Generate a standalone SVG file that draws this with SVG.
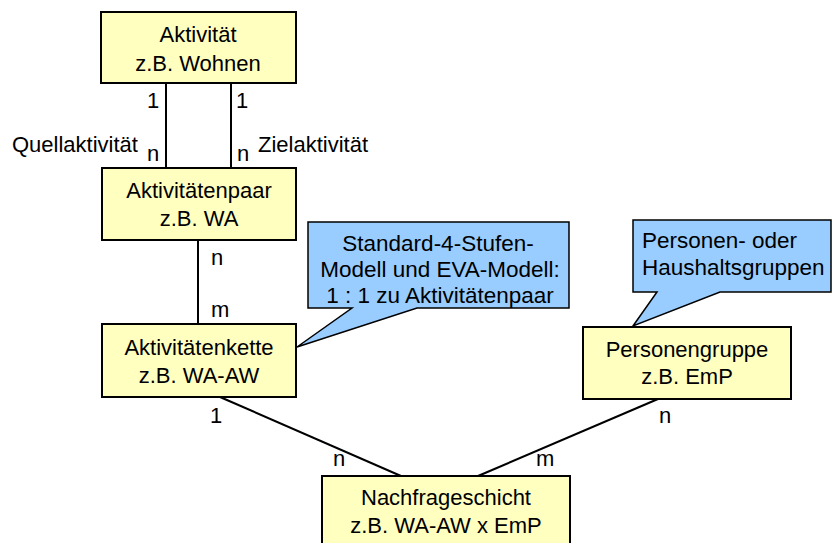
<svg xmlns="http://www.w3.org/2000/svg" width="832" height="543" viewBox="0 0 832 543">
  <style>
    text { font-family: "Liberation Sans", Arial, sans-serif; font-size: 22px; fill: #000; }
    .note-text { font-size: 22.5px; }
    .box { fill: #ffffc0; stroke: #000; stroke-width: 2; }
    .note { fill: #99ccff; stroke: #000; stroke-width: 1.5; stroke-linejoin: miter; }
    .link { stroke: #000; stroke-width: 2; fill: none; }
    .c { text-anchor: middle; }
  </style>
  <rect width="832" height="543" fill="#fff"/>

  <!-- connectors and their cardinality labels -->
  <g id="connectors">
    <line class="link" x1="166" y1="83" x2="166" y2="168"/>
    <line class="link" x1="231" y1="83" x2="231" y2="168"/>
    <line class="link" x1="198" y1="240" x2="198" y2="324"/>
    <line class="link" x1="220" y1="397" x2="401" y2="476"/>
    <line class="link" x1="658" y1="399" x2="478" y2="476"/>
    <text x="147" y="108">1</text>
    <text x="236" y="108">1</text>
    <text x="12" y="152">Quellaktivität</text>
    <text x="147" y="161">n</text>
    <text x="237" y="161">n</text>
    <text x="258" y="152">Zielaktivität</text>
    <text x="211" y="265">n</text>
    <text x="211" y="317">m</text>
    <text x="210" y="423">1</text>
    <text x="333" y="466">n</text>
    <text x="659" y="423">n</text>
    <text x="536" y="466">m</text>
  </g>

  <g id="aktivitaet">
    <rect class="box" x="101" y="12" width="195" height="71"/>
    <text class="c" x="198" y="42">Aktivität</text>
    <text class="c" x="198" y="71">z.B. Wohnen</text>
  </g>

  <g id="aktivitaetenpaar">
    <rect class="box" x="102" y="168" width="194" height="72"/>
    <text class="c" x="199" y="198">Aktivitätenpaar</text>
    <text class="c" x="199" y="226">z.B. WA</text>
  </g>

  <g id="aktivitaetenkette">
    <rect class="box" x="102" y="324" width="194" height="73"/>
    <text class="c" x="199" y="355">Aktivitätenkette</text>
    <text class="c" x="199" y="383">z.B. WA-AW</text>
  </g>

  <g id="personengruppe">
    <rect class="box" x="583" y="327" width="208" height="72"/>
    <text class="c" x="687" y="357">Personengruppe</text>
    <text class="c" x="687" y="384">z.B. EmP</text>
  </g>

  <g id="nachfrageschicht">
    <rect class="box" x="322" y="476" width="248" height="80"/>
    <text class="c" x="446" y="505">Nachfrageschicht</text>
    <text class="c" x="446" y="533">z.B. WA-AW x EmP</text>
  </g>

  <g id="note-modell">
    <path class="note" d="M308,222 H569 V308 H417 L297,347 L352,308 H308 Z"/>
    <text class="c note-text" x="438" y="251">Standard-4-Stufen-</text>
    <text class="c note-text" x="440" y="277">Modell und EVA-Modell:</text>
    <text class="c note-text" x="440" y="303">1 : 1 zu Aktivitätenpaar</text>
  </g>

  <g id="note-gruppen">
    <path class="note" d="M633,220 H831 V292 H720 L633,326 L657,292 H633 Z"/>
    <text class="note-text" x="642" y="248">Personen- oder</text>
    <text class="note-text" x="642" y="275">Haushaltsgruppen</text>
  </g>
</svg>
